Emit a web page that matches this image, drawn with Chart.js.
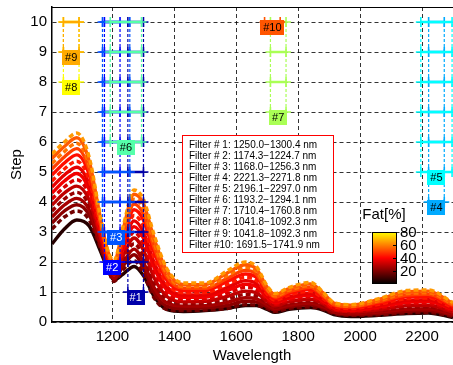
<!DOCTYPE html>
<html><head><meta charset="utf-8">
<script src="https://cdn.jsdelivr.net/npm/chart.js@4.4.0/dist/chart.umd.min.js"></script>
<style>html,body{margin:0;padding:0;background:#fff;overflow:hidden}#wrap{width:453px;height:365px;position:relative}</style>
</head><body><div id="wrap"><canvas id="c" width="453" height="365"></canvas></div>
<script>
// ---------- data ----------
const WAVELENGTHS = [1005,1045,1085,1125,1160,1185,1205,1235,1270,1300,1335,1375,1430,1500,1570,1630,1665,1700,1725,1770,1840,1880,1915,1970,2060,2150,2220,2300];
const spec00 = [2.6,3.1,3.4,3.2,2.4,1.75,1.4,1.6,1.85,1.55,0.85,0.42,0.35,0.38,0.45,0.55,0.55,0.42,0.32,0.42,0.48,0.4,0.25,0.18,0.22,0.28,0.3,0.15];
const spec01 = [3.1,3.5,3.7,3.4,2.5,1.8,1.35,1.75,2.05,1.6,0.8,0.42,0.38,0.4,0.45,0.58,0.56,0.45,0.35,0.45,0.5,0.42,0.28,0.22,0.24,0.3,0.32,0.18];
const spec02 = [3.30,3.70,3.91,3.57,2.59,1.85,1.41,1.87,2.24,1.80,0.97,0.53,0.45,0.47,0.55,0.69,0.66,0.51,0.40,0.51,0.57,0.47,0.31,0.25,0.28,0.36,0.38,0.22];
const spec03 = [3.50,3.90,4.12,3.74,2.68,1.90,1.46,1.98,2.43,2.00,1.14,0.64,0.53,0.54,0.65,0.81,0.77,0.57,0.45,0.56,0.63,0.51,0.34,0.28,0.33,0.42,0.44,0.26];
const spec04 = [3.70,4.10,4.32,3.90,2.76,1.94,1.52,2.10,2.61,2.20,1.30,0.75,0.60,0.62,0.75,0.92,0.87,0.63,0.49,0.62,0.70,0.56,0.37,0.31,0.37,0.48,0.50,0.29];
const spec05 = [3.90,4.30,4.53,4.07,2.85,1.99,1.57,2.21,2.80,2.40,1.47,0.86,0.67,0.69,0.85,1.03,0.97,0.69,0.54,0.67,0.76,0.61,0.40,0.34,0.41,0.54,0.56,0.33];
const spec06 = [4.10,4.50,4.74,4.24,2.94,2.04,1.63,2.33,2.99,2.60,1.64,0.97,0.75,0.76,0.95,1.15,1.08,0.75,0.59,0.73,0.83,0.65,0.43,0.36,0.46,0.60,0.62,0.37];
const spec07 = [4.30,4.70,4.95,4.41,3.03,2.09,1.69,2.45,3.18,2.80,1.81,1.08,0.82,0.83,1.05,1.26,1.18,0.81,0.64,0.79,0.89,0.70,0.46,0.39,0.50,0.66,0.68,0.41];
const spec08 = [4.50,4.90,5.16,4.58,3.12,2.14,1.74,2.56,3.37,3.00,1.98,1.19,0.90,0.90,1.15,1.38,1.28,0.87,0.69,0.84,0.96,0.74,0.49,0.42,0.54,0.72,0.74,0.44];
const spec09 = [4.70,5.10,5.36,4.74,3.20,2.18,1.80,2.68,3.55,3.20,2.14,1.30,0.97,0.98,1.25,1.49,1.39,0.93,0.73,0.90,1.02,0.79,0.52,0.45,0.59,0.78,0.80,0.48];
const spec10 = [4.90,5.30,5.57,4.91,3.29,2.23,1.85,2.79,3.74,3.40,2.31,1.41,1.04,1.05,1.35,1.60,1.49,0.99,0.78,0.95,1.09,0.84,0.55,0.48,0.63,0.84,0.86,0.52];
const spec11 = [5.10,5.50,5.78,5.08,3.38,2.28,1.91,2.91,3.93,3.60,2.48,1.52,1.12,1.12,1.45,1.72,1.59,1.05,0.83,1.01,1.16,0.88,0.58,0.51,0.67,0.90,0.92,0.56];
const spec12 = [5.28,5.68,5.96,5.23,3.46,2.32,1.96,3.01,4.09,3.78,2.63,1.62,1.18,1.18,1.54,1.82,1.68,1.10,0.87,1.06,1.21,0.92,0.60,0.53,0.71,0.95,0.97,0.59];
const spec13 = [5.45,5.85,6.14,5.37,3.53,2.36,2.01,3.11,4.26,3.95,2.77,1.72,1.24,1.25,1.63,1.91,1.77,1.16,0.91,1.11,1.27,0.97,0.63,0.56,0.75,1.01,1.03,0.62];
const spec14 = [5.6,6.0,6.3,5.5,3.6,2.4,2.05,3.2,4.4,4.1,2.9,1.8,1.3,1.3,1.7,2.0,1.85,1.2,0.95,1.15,1.32,1.0,0.65,0.58,0.78,1.05,1.07,0.65];
const SPECTRA = [spec00,spec01,spec02,spec03,spec04,spec05,spec06,spec07,spec08,spec09,spec10,spec11,spec12,spec13,spec14];
const FAT = [6,18,22,26,24,30,34,38,36,44,42,50,58,54,64];
const DASHED = [false,true,false,false,true,false,true,false,false,true,false,false,true,false,true];

const FILTER_LO = [1250.0,1174.3,1168.0,2221.3,2196.1,1193.2,1710.4,1041.8,1041.8,1691.5];
const FILTER_HI = [1300.4,1224.7,1256.3,2271.8,2297.0,1294.1,1760.8,1092.3,1092.3,1741.9];
const FILTER_COLORS = ['rgb(0,0,170)','rgb(0,0,255)','rgb(0,85,255)','rgb(0,170,255)','rgb(0,255,255)','rgb(85,255,170)','rgb(170,255,85)','rgb(255,255,0)','rgb(255,170,0)','rgb(255,85,0)'];
const STEPS = [1,2,3,4,5,6,7,8,9,10];
const X_TICKS = [1200,1400,1600,1800,2000,2200];
const Y_TICKS = [0,1,2,3,4,5,6,7,8,9,10];
const COLORBAR_TICKS = [20,40,60,80];

// ---------- helpers ----------
const FONT = '"Liberation Sans", Arial, sans-serif';
function hot(f){ // fat 0..80 -> truncated hot colormap
  const r = Math.min(1, f/40), g = Math.max(0, Math.min(1,(f-40)/40));
  return `rgb(${Math.round(r*255)},${Math.round(g*255)},0)`;
}

const datasets = [];
SPECTRA.forEach((s,i)=>{
  datasets.push({
    data: WAVELENGTHS.map((w,j)=>({x:w,y:s[j]})),
    borderColor: hot(FAT[i]), borderWidth: 3.4, pointRadius: 0,
    borderDash: DASHED[i] ? [5,3] : [],
    cubicInterpolationMode: 'monotone', order: 200 - i
  });
});
FILTER_LO.forEach((lo,k)=>{
  const hi = FILTER_HI[k], start = STEPS[k];
  const h = [], v = [];
  STEPS.filter(s=>s>=start).forEach(s=>{ h.push({x:lo,y:s},{x:hi,y:s},{x:hi+0.1,y:null}); });
  v.push({x:lo,y:start},{x:lo,y:10},{x:lo+0.1,y:null},{x:hi,y:start},{x:hi,y:10});
  datasets.push({data:v, borderColor:FILTER_COLORS[k], borderWidth:1.2, borderDash:[3,2], pointRadius:0, spanGaps:false, order: 100 - k*2});
  datasets.push({data:h, borderColor:FILTER_COLORS[k], backgroundColor:FILTER_COLORS[k], borderWidth:2.5, pointStyle:'cross', pointRadius:5, pointBorderWidth:1.6, pointBorderColor:FILTER_COLORS[k], spanGaps:false, order: 99 - k*2});
});

const overlay = {
  id:'overlay',
  afterDatasetsDraw(chart){
    const {ctx, chartArea:a, scales:{x,y}} = chart;
    ctx.save();
    ctx.strokeStyle='#000'; ctx.lineWidth=1;
    ctx.beginPath(); ctx.moveTo(a.left, a.top+0.5); ctx.lineTo(a.right, a.top+0.5); ctx.stroke();
    // filter labels
    ctx.font = '11px ' + FONT; ctx.textAlign='center'; ctx.textBaseline='middle';
    FILTER_LO.forEach((lo,k)=>{
      const cx = x.getPixelForValue((lo+FILTER_HI[k])/2), cy = y.getPixelForValue(STEPS[k]) + 5;
      const t = '#'+STEPS[k]; const w = ctx.measureText(t).width + 6, h = 15;
      ctx.fillStyle = FILTER_COLORS[k]; ctx.fillRect(Math.round(cx-w/2), Math.round(cy-h/2), Math.round(w), h);
      ctx.fillStyle = k<3 ? '#fff' : '#000'; ctx.fillText(t, cx, cy+0.5);
    });
    // filter text box
    const bx=182, by=135, bw=151, bh=117;
    ctx.fillStyle='#fff'; ctx.fillRect(bx,by,bw,bh);
    ctx.strokeStyle='#ff0000'; ctx.lineWidth=1; ctx.strokeRect(bx+0.5,by+0.5,bw,bh);
    ctx.fillStyle='#000'; ctx.font='10px '+FONT; ctx.textAlign='left'; ctx.textBaseline='middle';
    FILTER_LO.forEach((lo,k)=>{
      const n = STEPS[k] < 10 ? ' '+STEPS[k] : ''+STEPS[k];
      ctx.fillText(`Filter #${n}: ${lo.toFixed(1)}\u2212${FILTER_HI[k].toFixed(1)} nm`, 189, 145 + k*11.1);
    });
    // colorbar
    const cbx=372, cbTop=232, cbBot=284, cbw=25;
    const g = ctx.createLinearGradient(0,cbBot,0,cbTop);
    g.addColorStop(0,'rgb(0,0,0)'); g.addColorStop(0.5,'rgb(255,0,0)'); g.addColorStop(1,'rgb(255,255,0)');
    ctx.fillStyle=g; ctx.fillRect(cbx,cbTop,cbw,cbBot-cbTop);
    ctx.strokeStyle='#000'; ctx.lineWidth=1; ctx.strokeRect(cbx+0.5,cbTop+0.5,cbw-1,cbBot-cbTop-1);
    ctx.fillStyle='#000'; ctx.font='15px '+FONT; ctx.textAlign='left'; ctx.textBaseline='middle';
    COLORBAR_TICKS.forEach(t=>{
      const ty = cbBot - (t/80)*(cbBot-cbTop);
      ctx.beginPath(); ctx.moveTo(cbx+cbw-4,ty+0.5); ctx.lineTo(cbx+cbw,ty+0.5); ctx.stroke();
      ctx.fillText(String(t), cbx+cbw+3, ty+1);
    });
    ctx.font='15px '+FONT; ctx.textAlign='center';
    ctx.fillText('Fat[%]', 384, 215);
    // axis titles
    ctx.fillText('Wavelength', 252, 356);
    ctx.translate(16.5,(a.top+a.bottom)/2); ctx.rotate(-Math.PI/2);
    ctx.fillText('Step',0,0);
    ctx.restore();
  }
};

new Chart(document.getElementById('c'), {
  type:'line',
  data:{datasets},
  plugins:[overlay],
  options:{
    responsive:false, animation:false, devicePixelRatio:1,
    layout:{autoPadding:false, padding:{top:7,right:0,left:0,bottom:0}},
    plugins:{legend:{display:false}, tooltip:{enabled:false}},
    scales:{
      x:{type:'linear', min:1005, max:2300,
        afterBuildTicks:s=>{s.ticks = X_TICKS.map(v=>({value:v}));},
        afterFit:s=>{s.height=43; s.paddingRight=0; s.paddingLeft=0;},
        ticks:{font:{size:15,family:FONT}, color:'#000', padding:6, maxRotation:0, callback:v=>String(v)},
        grid:{color:'rgba(0,0,0,0.8)', lineWidth:1, drawTicks:false},
        border:{display:true, color:'#000', width:1.5, dash:[4,3]}},
      y:{type:'linear', min:0, max:10.5,
        afterBuildTicks:s=>{s.ticks = Y_TICKS.map(v=>({value:v}));},
        afterFit:s=>{s.width=52; s.paddingTop=0; s.paddingBottom=0;},
        ticks:{font:{size:15,family:FONT}, color:'#000', padding:5, callback:v=>String(v)},
        grid:{color:'rgba(0,0,0,0.8)', lineWidth:1, drawTicks:false},
        border:{display:true, color:'#000', width:1.5, dash:[4,3]}}
    }
  }
});
</script></body></html>
